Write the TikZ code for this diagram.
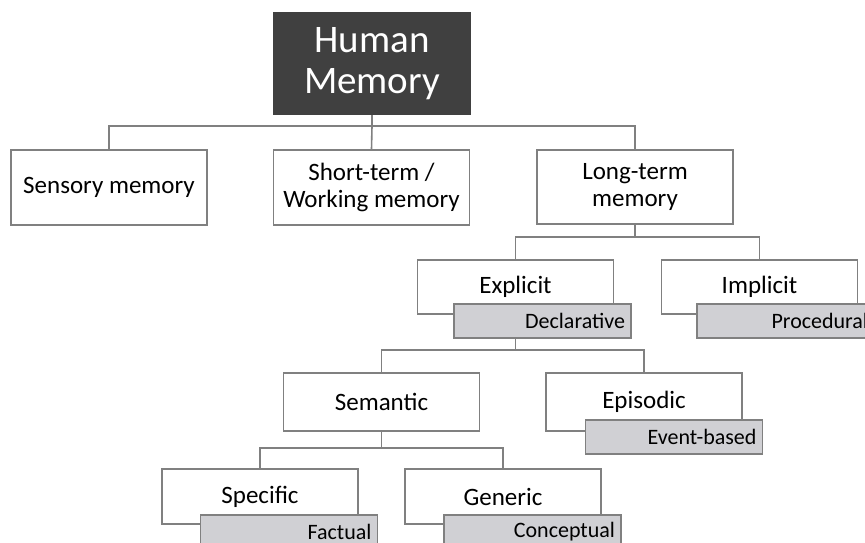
\documentclass[tikz,border=0pt]{standalone}
\usepackage{fontspec}
\setmainfont{Carlito}
\definecolor{linegray}{RGB}{128,128,128}
\definecolor{tagfill}{RGB}{208,208,212}
\definecolor{rootfill}{RGB}{64,64,64}
\begin{document}
\begin{tikzpicture}[x=1pt,y=-1pt,
  box/.style={draw=linegray,line width=1.6pt,fill=white,rectangle,
    minimum width=196pt,inner sep=2pt,align=center,
    font=\fontsize{25}{27}\selectfont},
  rootbox/.style={fill=rootfill,text=white,rectangle,minimum width=198pt,
    minimum height=103pt,align=center,font=\fontsize{39}{41}\selectfont},
  tag/.style={draw=linegray,line width=1.6pt,fill=tagfill,rectangle,
    minimum width=177pt,minimum height=34pt,inner xsep=6pt,inner ysep=0pt,
    text width=165pt,align=right,font=\fontsize{22}{24}\selectfont},
  conn/.style={draw=linegray,line width=1.6pt}]
\useasboundingbox (0,0) rectangle (865,543);
\clip (0,0) rectangle (865,543);

% root and first level
\node[rootbox] (hm) at (372,63.5) {Human\\Memory};
\node[box,minimum height=75pt] (sens) at (109,187.5) {Sensory memory};
\node[box,minimum height=75pt] (stm) at (371.5,187.5) {Short-term /\\Working memory};
\node[box,minimum height=74pt] (ltm) at (635,187) {Long-term\\memory};

% long-term branches
\node[box,minimum height=54pt] (expl) at (515.5,287) {Explicit};
\node[tag] (decl) at (542.5,321) {Declarative};
\node[box,minimum height=54pt] (impl) at (759.5,287) {Implicit};
\node[tag] (proc) at (785.5,321) {Procedural};

% explicit branches
\node[box,minimum height=58pt] (sem) at (381.5,402) {Semantic};
\node[box,minimum height=58pt] (epi) at (644,402) {Episodic};
\node[tag] (evt) at (674,437) {Event-based};

% semantic branches
\node[box,minimum height=55pt] (spec) at (260,496.5) {Specific};
\node[tag] (fact) at (289,532) {Factual};
\node[box,minimum height=55pt] (gen) at (503,496.5) {Generic};
\node[tag] (conc) at (532.5,532) {Conceptual};

% connectors
\draw[conn] (hm.south) -- ++(0,11) coordinate (hbus);
\draw[conn] (hbus) -| (sens.north);
\draw[conn] (hbus) -- (stm.north);
\draw[conn] (hbus) -| (ltm.north);

\draw[conn] (ltm.south) -- ++(0,12) coordinate (lbus);
\draw[conn] (lbus) -| (expl.north);
\draw[conn] (lbus) -| (impl.north);

\draw[conn] (expl |- decl.south) -- ++(0,11) coordinate (dbus);
\draw[conn] (dbus) -| (sem.north);
\draw[conn] (dbus) -| (epi.north);

\draw[conn] (sem.south) -- ++(0,16) coordinate (sbus);
\draw[conn] (sbus) -| (spec.north);
\draw[conn] (sbus) -| (gen.north);
\end{tikzpicture}
\end{document}
